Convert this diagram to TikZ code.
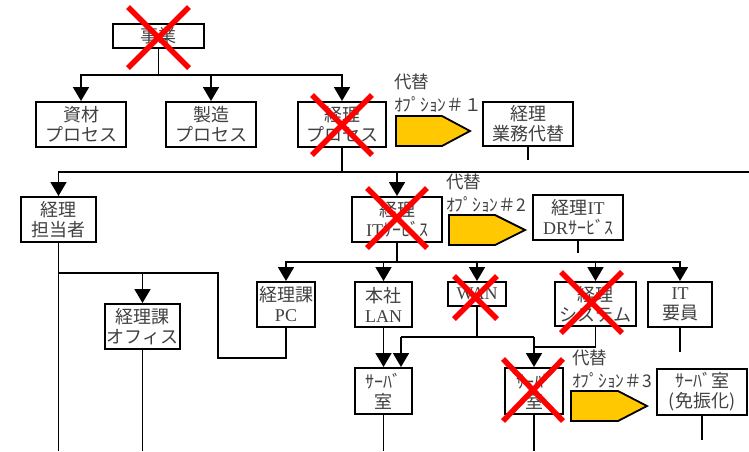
\documentclass[tikz,border=0pt]{standalone}
\usepackage{fontspec}
\setmainfont{Noto Sans CJK JP}
\newfontfamily\lat{Liberation Serif}
\usetikzlibrary{arrows.meta}
\definecolor{optgold}{HTML}{FFC800}
\tikzset{
 box/.style={draw=black, line width=2pt, align=center, text=black!75, font=\fontsize{18}{20}\selectfont, inner sep=0pt},
 conn/.style={line width=1.8pt},
 arr/.style={conn, -{Triangle[width=16pt,length=14pt]}},
 xmark/.style={draw=red, line width=5.5pt},
 optarrow/.style={draw=black, line width=1.8pt, fill=optgold, line join=miter},
 optlabel/.style={anchor=west, text=black!75, inner sep=0pt, align=left, font=\fontsize{17.5}{23}\selectfont},
}
\begin{document}
\begin{tikzpicture}[x=1pt,y=-1pt]
\useasboundingbox (0,0) rectangle (749,451);
% boxes
\node[box, minimum width=91pt, minimum height=24pt] (jigyo) at (158.5,36) {事業};
\node[box, minimum width=90pt, minimum height=45pt] (shizai) at (81,124.5) {資材\\プロセス};
\node[box, minimum width=90pt, minimum height=45pt] (seizo) at (211,124.5) {製造\\プロセス};
\node[box, minimum width=88pt, minimum height=45pt] (keiriP) at (342,124.5) {経理\\プロセス};
\node[box, minimum width=90pt, minimum height=44pt] (gyomu) at (528,124) {経理\\業務代替};
\node[box, minimum width=75pt, minimum height=45pt] (tanto) at (58.5,219.5) {経理\\担当者};
\node[box, minimum width=90pt, minimum height=45pt] (itsv) at (397,219.5) {経理\\{\lat IT}ｻｰﾋﾞｽ};
\node[box, minimum width=90pt, minimum height=45pt] (dr) at (578,217.5) {経理{\lat IT}\\{\lat DR}ｻｰﾋﾞｽ};
\node[box, minimum width=75pt, minimum height=45pt] (office) at (142.5,326.5) {経理課\\オフィス};
\node[box, minimum width=58pt, minimum height=45pt] (pc) at (286,304.5) {経理課\\{\lat PC}};
\node[box, minimum width=57pt, minimum height=45pt] (lan) at (383.5,304.5) {本社\\{\lat LAN}};
\node[box, minimum width=58pt, minimum height=24pt] (wan) at (477,294) {\lat WAN};
\node[box, minimum width=81pt, minimum height=44pt] (sys) at (595.5,304) {経理\\システム};
\node[box, minimum width=64pt, minimum height=45pt] (itstaff) at (680,304.5) {{\lat IT}\\要員};
\node[box, minimum width=57pt, minimum height=46pt] (srv1) at (383.5,391) {ｻｰﾊﾞ\\室};
\node[box, minimum width=58pt, minimum height=46pt] (srv2) at (534,391) {ｻｰﾊﾞ\\室};
\node[box, minimum width=90pt, minimum height=46pt] (srv3) at (702,392) {ｻｰﾊﾞ室\\(免振化)};
% labels
\node[optlabel] (lab1) at (394,93.5) {代替\\ｵﾌﾟｼｮﾝ＃１};
\node[optlabel] (lab2) at (446,193.5) {代替\\ｵﾌﾟｼｮﾝ＃2};
\node[optlabel] (lab3) at (572,369) {代替\\ｵﾌﾟｼｮﾝ＃3};
% option arrows
\draw[optarrow] (396,116) -- (442,116) -- (470,131) -- (442,146) -- (396,146) -- cycle;
\draw[optarrow] (449,215) -- (495,215) -- (525,230) -- (495,245) -- (449,245) -- cycle;
\draw[optarrow] (571,391) -- (618,391) -- (647,406) -- (618,421) -- (571,421) -- cycle;
% coordinates
\coordinate (j1) at (158.5,75);
\coordinate (b2) at (342,172);
\coordinate (b2l) at (58.5,172);
\coordinate (b2r) at (749,172);
\coordinate (b3) at (397,262);
\coordinate (t1) at (58.5,273);
\coordinate (t2) at (218,273);
\coordinate (t3) at (218,358);
\coordinate (t4) at (286,358);
\coordinate (w1) at (477,337);
\coordinate (w2) at (401,337);
\coordinate (w3) at (534,337);
\coordinate (s1) at (595.5,347);
\coordinate (s2) at (534,347);
\coordinate (bot1) at (58.5,451);
\coordinate (bot2) at (142.5,451);
\coordinate (bot3) at (383.5,451);
\coordinate (bot4) at (534,451);
\coordinate (e1) at (528,160);
\coordinate (e2) at (578,253);
\coordinate (e3) at (680,352);
\coordinate (e4) at (702,440);
% connectors
\draw[conn] (jigyo.south) -- (j1);
\draw[arr] (j1) -| (shizai.north);
\draw[arr] (j1) -| (seizo.north);
\draw[arr] (j1) -| (keiriP.north);
\draw[conn] (keiriP.south) -- (b2);
\draw[arr] (b2) -| (tanto.north);
\draw[arr] (b2) -| (itsv.north);
\draw[conn] (b2l) -- (b2r);
\draw[conn] (gyomu.south) -- (e1);
\draw[conn] (dr.south) -- (e2);
\draw[conn] (itsv.south) -- (b3);
\draw[arr] (b3) -| (pc.north);
\draw[arr] (b3) -| (lan.north);
\draw[arr] (b3) -| (wan.north);
\draw[arr] (b3) -| (sys.north);
\draw[arr] (b3) -| (itstaff.north);
\draw[conn] (tanto.south) -- (bot1);
\draw[conn] (t1) -- (t2) -- (t3) -- (t4) -- (pc.south);
\draw[arr] (t1) -| (office.north);
\draw[conn] (office.south) -- (bot2);
\draw[conn] (itstaff.south) -- (e3);
\draw[arr] (lan.south) -- (srv1.north);
\draw[conn] (wan.south) -- (w1);
\draw[conn] (w2) -- (w3);
\draw[arr] (w2) -- (w2 |- srv1.north);
\draw[arr] (w3) -- (srv2.north);
\draw[conn] (sys.south) -- (s1) -- (s2);
\draw[conn] (srv1.south) -- (bot3);
\draw[conn] (srv2.south) -- (bot4);
\draw[conn] (srv3.south) -- (e4);
% red crosses
\draw[xmark] (128,7) -- (189,68) (189,7) -- (128,68);
\draw[xmark] (312,95) -- (372,155) (372,95) -- (312,155);
\draw[xmark] (367,188) -- (427,248) (427,188) -- (367,248);
\draw[xmark] (454,276) -- (497,319) (497,276) -- (454,319);
\draw[xmark] (561,272) -- (622,333) (622,272) -- (561,333);
\draw[xmark] (503,359) -- (563,421) (563,359) -- (503,421);
\end{tikzpicture}
\end{document}
